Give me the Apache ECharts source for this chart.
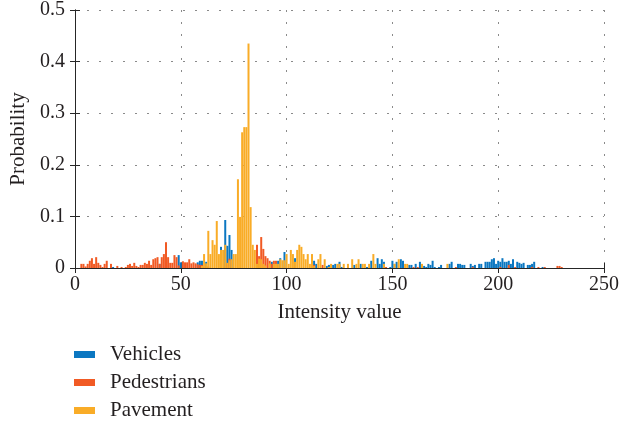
<!DOCTYPE html>
<html>
<head>
<meta charset="utf-8">
<script src="https://cdn.jsdelivr.net/npm/echarts@6/dist/echarts.min.js"></script>
<style>
  html, body { margin: 0; padding: 0; background: #fff; }
  #chart { width: 619px; height: 423px; }
</style>
</head>
<body>
<div id="chart"></div>
<script>
// histogram values, index = intensity value (0..250)
const VEHICLES = [
  0, 0, 0, 0, 0, 0, 0, 0, 0, 0,
  0, 0, 0, 0, 0, 0, 0, 0, 0.002, 0,
  0, 0, 0, 0, 0, 0, 0, 0, 0, 0,
  0, 0, 0, 0, 0, 0, 0, 0, 0, 0,
  0.008, 0, 0, 0, 0, 0, 0, 0, 0, 0.025,
  0.011, 0, 0, 0, 0, 0, 0, 0, 0.011, 0.014,
  0.014, 0, 0.012, 0, 0, 0, 0, 0, 0, 0.041,
  0, 0.093, 0.043, 0.064, 0.035, 0, 0, 0, 0, 0,
  0, 0, 0, 0, 0, 0, 0, 0, 0, 0,
  0, 0, 0, 0.012, 0, 0, 0.014, 0.019, 0, 0.031,
  0, 0, 0, 0, 0.019, 0, 0, 0, 0, 0,
  0, 0, 0, 0.014, 0.008, 0, 0, 0, 0, 0.004,
  0.006, 0, 0.006, 0.008, 0, 0.012, 0.002, 0, 0, 0,
  0, 0, 0.006, 0, 0, 0.008, 0, 0, 0.002, 0,
  0.014, 0, 0, 0.019, 0.008, 0.017, 0.012, 0, 0, 0.002,
  0.014, 0.008, 0.012, 0, 0.017, 0.014, 0, 0, 0.006, 0.006,
  0, 0.008, 0, 0.012, 0, 0.004, 0.002, 0.008, 0.006, 0.014,
  0.002, 0, 0.002, 0.006, 0, 0, 0, 0.008, 0.012, 0,
  0, 0.008, 0.008, 0.006, 0.006, 0, 0, 0.008, 0.004, 0.006,
  0, 0.008, 0.008, 0, 0.012, 0.012, 0.012, 0.017, 0.019, 0.008,
  0.014, 0.012, 0.019, 0.012, 0.012, 0.014, 0.008, 0.017, 0, 0.012,
  0.010, 0.008, 0.010, 0, 0.006, 0.006, 0.008, 0.012, 0, 0,
  0, 0.002, 0, 0, 0, 0, 0, 0, 0, 0,
  0, 0, 0, 0, 0, 0, 0, 0, 0, 0,
  0, 0, 0, 0, 0, 0, 0, 0, 0, 0,
  0
]
const PEDESTRIANS = [
  0, 0, 0, 0.008, 0.008, 0.003, 0.008, 0.014, 0.019, 0.008,
  0.021, 0.010, 0.006, 0.002, 0.008, 0.014, 0, 0.008, 0, 0,
  0.004, 0, 0.002, 0, 0.002, 0.006, 0.008, 0.004, 0.010, 0.004,
  0.002, 0.006, 0.006, 0.010, 0.008, 0.014, 0.006, 0.017, 0.019, 0.021,
  0.008, 0.021, 0.027, 0.050, 0.021, 0.010, 0.010, 0.025, 0.021, 0.005,
  0, 0.013, 0.011, 0.011, 0.017, 0.009, 0.011, 0.009, 0.007, 0.006,
  0.006, 0.003, 0.003, 0.003, 0, 0, 0, 0, 0, 0,
  0, 0, 0.009, 0.018, 0, 0, 0, 0, 0, 0,
  0, 0, 0, 0, 0, 0, 0.045, 0.023, 0.060, 0.037,
  0.023, 0.019, 0.014, 0.008, 0.014, 0.014, 0.004, 0, 0, 0,
  0, 0, 0, 0, 0, 0, 0, 0, 0, 0,
  0, 0, 0, 0.006, 0, 0, 0, 0.006, 0, 0,
  0, 0, 0, 0, 0, 0, 0, 0, 0, 0,
  0, 0, 0, 0, 0, 0, 0, 0, 0, 0,
  0, 0, 0, 0, 0, 0, 0, 0.002, 0, 0,
  0, 0, 0, 0, 0, 0, 0, 0, 0, 0,
  0.002, 0, 0.002, 0, 0, 0, 0, 0, 0, 0,
  0, 0, 0, 0, 0, 0, 0, 0, 0, 0,
  0.002, 0, 0, 0, 0, 0, 0, 0, 0.002, 0,
  0, 0, 0, 0, 0, 0, 0, 0, 0, 0,
  0, 0.002, 0, 0, 0, 0.006, 0, 0, 0.002, 0,
  0, 0, 0, 0, 0, 0, 0.002, 0, 0, 0.002,
  0, 0, 0.002, 0, 0, 0, 0, 0, 0.004, 0.004,
  0.002, 0, 0, 0, 0, 0, 0, 0, 0, 0,
  0, 0, 0, 0, 0, 0, 0, 0, 0, 0,
  0
]
const PAVEMENT = [
  0, 0, 0, 0, 0, 0, 0, 0, 0, 0,
  0, 0, 0, 0, 0, 0, 0, 0, 0, 0,
  0, 0, 0, 0, 0, 0, 0, 0, 0, 0,
  0, 0, 0, 0, 0, 0, 0, 0, 0, 0,
  0, 0, 0, 0, 0, 0, 0, 0, 0, 0,
  0, 0, 0, 0, 0, 0, 0, 0, 0, 0,
  0.004, 0.027, 0.009, 0.072, 0.027, 0.054, 0.045, 0.091, 0.027, 0.035,
  0.035, 0.045, 0.010, 0.015, 0.017, 0.027, 0.027, 0.172, 0.099, 0.263,
  0.273, 0.273, 0.435, 0.118, 0.045, 0.035, 0.008, 0.018, 0.017, 0.008,
  0.005, 0, 0.009, 0, 0.008, 0.008, 0.008, 0.017, 0.015, 0.015,
  0.027, 0.008, 0.035, 0.027, 0.012, 0.035, 0.045, 0.041, 0.027, 0.017,
  0.027, 0.008, 0.027, 0.004, 0, 0.017, 0.027, 0, 0.017, 0,
  0.002, 0.008, 0, 0, 0.008, 0.008, 0, 0.008, 0, 0.008,
  0, 0.017, 0, 0.008, 0.017, 0, 0.008, 0.008, 0, 0.008,
  0, 0.027, 0.008, 0, 0, 0, 0.008, 0, 0, 0,
  0, 0.008, 0, 0.017, 0, 0, 0.008, 0.008, 0, 0,
  0, 0, 0, 0, 0.008, 0, 0, 0, 0, 0,
  0, 0, 0, 0, 0, 0, 0.008, 0, 0, 0,
  0, 0, 0, 0, 0, 0, 0, 0, 0, 0,
  0, 0, 0, 0, 0, 0, 0, 0, 0, 0,
  0, 0, 0, 0, 0, 0, 0, 0, 0, 0,
  0, 0, 0, 0, 0, 0, 0, 0, 0, 0,
  0, 0, 0, 0, 0, 0, 0, 0, 0, 0,
  0, 0, 0, 0, 0, 0, 0, 0, 0, 0,
  0, 0, 0, 0, 0, 0, 0, 0, 0, 0,
  0
]
const X_TICKS = [0, 50, 100, 150, 200, 250]
const Y_TICKS = [0, 0.1, 0.2, 0.3, 0.4, 0.5]

const VEHICLES_COLOR = '#0B77C1'
const PEDESTRIANS_COLOR = '#F15A24'
const PAVEMENT_COLOR = '#F9AC27'
const FONT = 'Liberation Serif'
const TEXT_COLOR = '#231F20'
const AXIS_COLOR = '#262626'

const toPairs = (arr) => arr.map((v, i) => [i, v])

const gridLine = {
  show: true,
  lineStyle: { color: '#8a8a8a', type: [2, 10], width: 1 },
}

const boxAxis = {
  axisLine: { show: true, lineStyle: { color: AXIS_COLOR, width: 1 } },
  axisTick: { show: true, inside: true, length: 5, lineStyle: { color: AXIS_COLOR } },
  axisLabel: { show: false },
  splitLine: { show: false },
}

const chart = echarts.init(document.getElementById('chart'))
chart.setOption({
  animation: false,
  textStyle: { fontFamily: FONT },
  grid: { left: 75, right: 15, top: 10, bottom: 155, outerBoundsMode: 'none', containLabel: false },
  legend: {
    orient: 'vertical',
    left: 74,
    top: 344,
    padding: 0,
    itemWidth: 21,
    itemHeight: 7,
    itemGap: 7,
    icon: 'rect',
    textStyle: { fontFamily: FONT, fontSize: 21, color: TEXT_COLOR, padding: [0, 0, 0, 10] },
    data: ['Vehicles', 'Pedestrians', 'Pavement'],
  },
  xAxis: [
    {
      type: 'value',
      min: X_TICKS[0],
      max: X_TICKS[X_TICKS.length - 1],
      interval: 50,
      name: 'Intensity value',
      nameLocation: 'middle',
      nameGap: 34,
      nameTextStyle: { fontFamily: FONT, fontSize: 21, color: TEXT_COLOR },
      axisLine: { show: true, onZero: false, lineStyle: { color: AXIS_COLOR, width: 1 } },
      axisTick: { show: true, inside: true, length: 5, lineStyle: { color: AXIS_COLOR } },
      axisLabel: { fontFamily: FONT, fontSize: 20, color: TEXT_COLOR, margin: 7 },
      splitLine: gridLine,
    },
    {
      type: 'value',
      position: 'top',
      min: X_TICKS[0],
      max: X_TICKS[X_TICKS.length - 1],
      interval: 50,
      ...boxAxis,
    },
  ],
  yAxis: [
    {
      type: 'value',
      min: Y_TICKS[0],
      max: Y_TICKS[Y_TICKS.length - 1],
      interval: 0.1,
      name: 'Probability',
      nameLocation: 'middle',
      nameGap: 46,
      nameTextStyle: { fontFamily: FONT, fontSize: 21, color: TEXT_COLOR },
      axisLine: { show: true, lineStyle: { color: AXIS_COLOR, width: 1 } },
      axisTick: { show: true, inside: true, length: 5, lineStyle: { color: AXIS_COLOR } },
      axisLabel: { fontFamily: FONT, fontSize: 20, color: TEXT_COLOR, margin: 10 },
      splitLine: gridLine,
    },
    {
      type: 'value',
      position: 'right',
      min: Y_TICKS[0],
      max: Y_TICKS[Y_TICKS.length - 1],
      interval: 0.1,
      ...boxAxis,
    },
  ],
  series: [
    {
      name: 'Vehicles',
      type: 'bar',
      data: toPairs(VEHICLES),
      barWidth: 2,
      barGap: '-100%',
      itemStyle: { color: VEHICLES_COLOR },
    },
    {
      name: 'Pedestrians',
      type: 'bar',
      data: toPairs(PEDESTRIANS),
      barWidth: 2,
      barGap: '-100%',
      itemStyle: { color: PEDESTRIANS_COLOR },
    },
    {
      name: 'Pavement',
      type: 'bar',
      data: toPairs(PAVEMENT),
      barWidth: 2,
      barGap: '-100%',
      itemStyle: { color: PAVEMENT_COLOR },
    },
  ],
})
</script>
</body>
</html>
